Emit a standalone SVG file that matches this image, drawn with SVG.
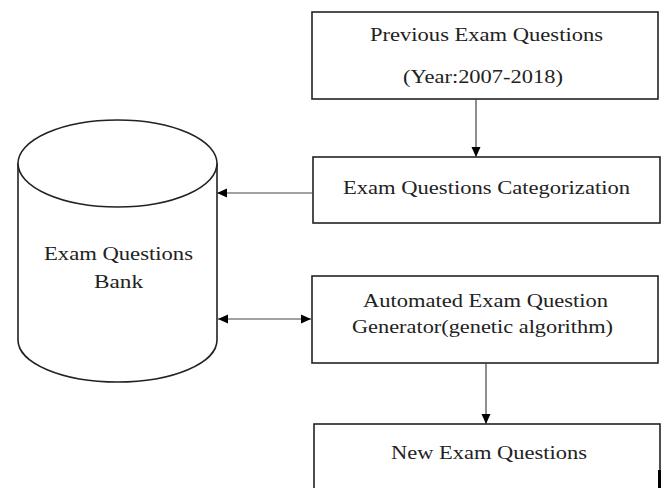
<svg xmlns="http://www.w3.org/2000/svg" width="664" height="488" viewBox="0 0 664 488">
<defs>
<marker id="ah" viewBox="0 0 10 10" refX="10" refY="5" markerWidth="10" markerHeight="10" markerUnits="userSpaceOnUse" orient="auto-start-reverse">
<path d="M0,0.5 L10,5 L0,9.5 Z" fill="#000"/>
</marker>
<style>
.box{fill:#fff;stroke:#222;stroke-width:1.6}
.conn{stroke:#444;stroke-width:1.2;fill:none}
text{font-family:"Liberation Serif","Times New Roman",serif;font-size:19.5px;fill:#222}
</style>
</defs>
<rect width="664" height="488" fill="#fff"/>
<g id="bank">
<path class="box" d="M18,163 L18,340 A99.5,42 0 0 0 217,340 L217,163"/>
<ellipse class="box" cx="117.5" cy="163.5" rx="99.5" ry="43.5"/>
<text x="44" y="260" textLength="149" lengthAdjust="spacingAndGlyphs">Exam Questions</text>
<text x="94" y="288" textLength="49" lengthAdjust="spacingAndGlyphs">Bank</text>
</g>
<g id="previous">
<rect class="box" x="312" y="12" width="346" height="87"/>
<text x="370" y="41" textLength="233" lengthAdjust="spacingAndGlyphs">Previous Exam Questions</text>
<text x="403" y="83" textLength="160" lengthAdjust="spacingAndGlyphs">(Year:2007-2018)</text>
</g>
<g id="categorization">
<rect class="box" x="313" y="157" width="347" height="66"/>
<text x="343" y="194" textLength="287" lengthAdjust="spacingAndGlyphs">Exam Questions Categorization</text>
</g>
<g id="generator">
<rect class="box" x="312" y="276" width="346" height="87"/>
<text x="363" y="307" textLength="245" lengthAdjust="spacingAndGlyphs">Automated Exam Question</text>
<text x="352" y="333" textLength="261" lengthAdjust="spacingAndGlyphs">Generator(genetic algorithm)</text>
</g>
<g id="newexam">
<rect class="box" x="314" y="424" width="346" height="80"/>
<rect x="658" y="470" width="3" height="18" fill="#000"/>
<text x="391" y="459" textLength="196" lengthAdjust="spacingAndGlyphs">New Exam Questions</text>
</g>
<g id="connectors">
<line class="conn" x1="476" y1="99" x2="476" y2="157" marker-end="url(#ah)"/>
<line class="conn" x1="313" y1="193" x2="217" y2="193" marker-end="url(#ah)"/>
<line class="conn" x1="218" y1="319" x2="311" y2="319" marker-start="url(#ah)" marker-end="url(#ah)"/>
<line class="conn" x1="486" y1="363" x2="486" y2="424" marker-end="url(#ah)"/>
</g>
</svg>
